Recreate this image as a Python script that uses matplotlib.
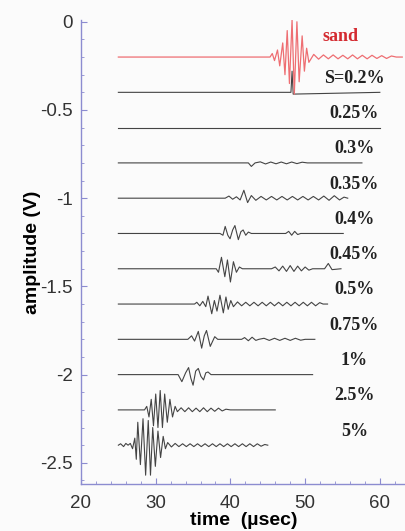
import matplotlib
matplotlib.use("Agg")
import matplotlib.pyplot as plt
from matplotlib.ticker import MultipleLocator, FormatStrFormatter

plt.rcParams['axes.unicode_minus'] = False

# trace labels, baselines (V) and read-off waveform knots (time in usec, amplitude about baseline)
labels = ['sand', 'S=0.2%', '0.25%', '0.3%', '0.35%', '0.4%', '0.45%',
          '0.5%', '0.75%', '1%', '2.5%', '5%']
baselines = [-0.2, -0.4, -0.6, -0.8, -1.0, -1.2, -1.4, -1.6, -1.8, -2.0, -2.2, -2.4]

sand_t = [25, 45.3, 45.6, 45.9, 46.3, 46.6, 47.0, 47.3, 47.6, 47.9, 48.25, 48.55, 48.9,
          49.2, 49.6, 49.9, 50.2, 50.5, 51.15, 51.8, 52.45, 53.1, 53.75, 54.4, 55.05,
          55.7, 56.35, 57.0, 57.65, 58.3, 58.95, 59.6, 60.25, 60.9, 61.55, 62.2, 63.0]
sand_a = [0, 0, 0.02, -0.02, 0.04, -0.05, 0.08, -0.1, 0.15, -0.15, 0.21, -0.21, 0.2,
          -0.14, 0.12, -0.08, 0.05, -0.03, 0.015, -0.012, 0.012, -0.01, 0.012, -0.01,
          0.01, -0.01, 0.012, -0.01, 0.01, -0.01, 0.01, -0.008, 0.008, -0.008, 0.006, 0, 0]

s02_t = [25, 48.1, 48.25, 48.4, 60]
s02_a = [0, 0, 0.12, -0.01, 0]

s025_t = [25, 60]
s025_a = [0, 0]

s03_t = [25, 42.4, 42.8, 43.3, 44.0, 44.7, 45.4, 46.1, 46.8, 47.5, 48.2, 48.9, 49.6, 50.3, 57.6]
s03_a = [0, 0, -0.02, 0, 0.006, -0.006, 0.005, -0.005, 0.005, -0.005, 0.005, -0.004, 0.004, 0, 0]

s035_t = [25, 39.3, 39.8, 40.3, 40.8, 41.3, 41.8, 42.3, 42.8, 43.4, 44.1, 44.8, 45.5, 46.2,
          46.9, 47.6, 48.3, 49.0, 49.7, 50.4, 51.1, 51.8, 52.5, 53.2, 53.9, 54.6, 55.2, 55.7]
s035_a = [0, 0, 0.012, -0.006, 0.008, -0.01, 0.045, -0.025, 0.015, -0.012, 0.01, -0.01, 0.01,
          -0.01, 0.01, -0.01, 0.01, -0.01, 0.01, -0.01, 0.01, -0.01, 0.012, -0.012, 0.014,
          -0.01, 0.006, 0]

s04_t = [25, 38.6, 39.0, 39.3, 39.65, 39.95, 40.3, 40.6, 41.06, 41.4, 41.7, 42.05, 42.4,
         42.8, 47.4, 47.8, 48.2, 48.6, 49.0, 49.4, 55.1]
s04_a = [0, 0, -0.01, 0.04, -0.01, -0.03, 0.02, 0.045, -0.035, 0.01, 0.02, -0.01, 0.008,
         0, 0, 0.012, -0.01, 0.012, -0.006, 0, 0]

s045_t = [25, 38.1, 38.4, 38.8, 39.25, 39.6, 40.0, 40.4, 40.8, 41.2, 41.6, 45.5, 46.0, 46.5,
          47.0, 47.5, 48.0, 48.5, 49.0, 49.5, 50.0, 50.5, 51.0, 52.6, 53.1, 53.6, 54.8]
s045_a = [0, 0, -0.02, 0.065, -0.045, 0.05, -0.075, 0.04, -0.02, 0.01, 0, 0, 0.01, -0.012,
          0.015, -0.015, 0.018, -0.015, 0.015, -0.012, 0.01, -0.008, 0, 0, 0.03, -0.005, 0]

s05_t = [25, 35.2, 35.5, 35.9, 36.3, 36.7, 37.0, 37.5, 37.85, 38.2, 38.6, 39.05, 39.4, 39.7,
         40.05, 40.4, 40.95, 41.5, 42.05, 42.6, 43.15, 43.7, 44.25, 44.8, 45.35, 45.9, 46.45,
         47.0, 47.55, 48.1, 48.65, 49.2, 49.75, 50.3, 50.85, 51.4, 51.95, 52.4, 53.0]
s05_a = [0, 0, 0.01, -0.01, 0.015, -0.015, 0.045, -0.055, 0.02, -0.04, 0.05, -0.05, 0.04,
         -0.03, 0.02, -0.015, 0.012, -0.01, 0.01, -0.01, 0.01, -0.01, 0.01, -0.01, 0.01,
         -0.01, 0.01, -0.01, 0.01, -0.01, 0.01, -0.01, 0.01, -0.01, 0.01, -0.01, 0.008, 0, 0]

s075_t = [25, 34.3, 34.8, 35.2, 35.7, 36.15, 36.5, 36.8, 37.3, 37.9, 38.3, 41.5, 41.9, 42.4,
          42.9, 43.4, 43.8, 44.5, 45.2, 45.9, 46.6, 47.3, 48.0, 48.7, 49.4, 50.0, 51.3]
s075_a = [0, 0, 0.02, -0.01, 0.045, -0.05, 0.02, 0.05, -0.04, 0.015, 0, 0, 0.01, -0.008,
          0.012, -0.006, 0, 0.006, -0.006, 0.006, -0.006, 0.006, -0.006, 0.006, -0.005, 0, 0]

s1_t = [25, 33.0, 33.5, 34.0, 34.4, 34.7, 35.0, 35.35, 35.7, 36.05, 36.4, 36.7, 37.0, 37.4, 51.0]
s1_a = [0, 0, -0.04, 0.01, 0.04, -0.02, -0.06, 0.02, 0.035, -0.01, -0.03, 0.01, 0.015, 0, 0]

s25_t = [25, 28.5, 28.8, 29.1, 29.4, 29.7, 30.0, 30.3, 30.6, 30.9, 31.2, 31.55, 31.9, 32.25,
         32.6, 32.9, 33.4, 33.9, 34.4, 34.9, 35.4, 35.9, 36.4, 36.9, 37.4, 37.9, 38.4, 38.9,
         39.4, 40.0, 46.0]
s25_a = [0, 0, 0.02, -0.04, 0.06, -0.09, 0.09, -0.1, 0.11, -0.1, 0.09, -0.07, 0.06, -0.04,
         0.02, -0.01, 0.012, -0.01, 0.012, -0.01, 0.01, -0.01, 0.012, -0.01, 0.01, -0.008,
         0.01, -0.006, 0.004, 0, 0]

s5_t = [25, 25.3, 25.7, 26.0, 26.3, 26.6, 26.9, 27.2, 27.4, 27.6, 27.95, 28.3, 28.65, 29.0,
        29.3, 29.6, 29.95, 30.3, 30.65, 31.0, 31.3, 31.6, 32.1, 32.6, 33.1, 33.6, 34.1, 34.6,
        35.1, 35.6, 36.1, 36.6, 37.1, 37.6, 38.1, 38.6, 39.1, 39.6, 40.1, 40.6, 41.1, 41.6,
        42.1, 42.6, 43.1, 43.6, 44.1, 44.6, 45.0]
s5_a = [0, 0.008, -0.008, 0.01, 0, 0.01, -0.02, 0.04, -0.08, 0.13, -0.11, 0.15, -0.17, 0.14,
        -0.17, 0.1, -0.12, 0.08, -0.07, 0.05, -0.02, 0.015, -0.01, 0.01, -0.008, 0.008,
        -0.008, 0.008, -0.008, 0.008, -0.008, 0.008, -0.008, 0.008, -0.008, 0.008, -0.008,
        0.008, -0.008, 0.008, -0.008, 0.008, -0.008, 0.008, -0.008, 0.008, -0.006, 0.004, 0]

traces = [(sand_t, sand_a), (s02_t, s02_a), (s025_t, s025_a), (s03_t, s03_a),
          (s035_t, s035_a), (s04_t, s04_a), (s045_t, s045_a), (s05_t, s05_a),
          (s075_t, s075_a), (s1_t, s1_a), (s25_t, s25_a), (s5_t, s5_a)]

fig = plt.figure(figsize=(4.06, 5.31), dpi=100, facecolor='#fbfbfb')
ax = fig.add_axes([81 / 406, 47 / 531, 325 / 406, 464 / 531])
ax.set_facecolor('#fbfbfb')

for i, ((t, a), base) in enumerate(zip(traces, baselines)):
    y = [base + v for v in a]
    if i == 0:
        ax.plot(t, y, color='#ee6e72', lw=0.9, zorder=3)
    else:
        ax.plot(t, y, color='#444444', lw=0.8, zorder=2)

# trace labels
for i, (lab, base) in enumerate(zip(labels, baselines)):
    if i == 0:
        ax.text(54.8, base + 0.115, lab, color='#d42a30', fontsize=13,
                fontweight='bold', family='Liberation Serif', ha='center', va='center')
    else:
        ax.text(56.6, base + 0.08, lab, color='#222222', fontsize=13,
                fontweight='bold', family='Liberation Serif', ha='center', va='center')

ax.set_xlim(20, 63.5)
ax.set_ylim(-2.62, 0.01)
ax.xaxis.set_major_locator(MultipleLocator(10))
ax.xaxis.set_minor_locator(MultipleLocator(2))
ax.yaxis.set_major_locator(MultipleLocator(0.5))
ax.yaxis.set_minor_locator(MultipleLocator(0.1))
ax.yaxis.set_major_formatter(FormatStrFormatter('%g'))
ax.xaxis.set_major_formatter(FormatStrFormatter('%g'))

spine_col = '#8c8cd0'
for s in ['top', 'right']:
    ax.spines[s].set_visible(False)
for s in ['left', 'bottom']:
    ax.spines[s].set_color(spine_col)
    ax.spines[s].set_linewidth(1.0)

ax.tick_params(which='both', direction='in', colors=spine_col, labelcolor='#333333',
               labelsize=13.5)
ax.tick_params(which='major', length=4)
ax.tick_params(which='minor', length=2.5)
ax.tick_params(axis='y', pad=6)
ax.tick_params(axis='x', pad=8)
for lbl in ax.get_xticklabels() + ax.get_yticklabels():
    lbl.set_family('Liberation Sans')

ax.set_xlabel('time  (\u00b5sec)', fontsize=14, fontweight='bold',
              family='Liberation Sans', labelpad=0)
ax.set_ylabel('amplitude (V)', fontsize=14, fontweight='bold',
              family='Liberation Sans', labelpad=-1)

fig.savefig('out.png', dpi=100, facecolor=fig.get_facecolor())
